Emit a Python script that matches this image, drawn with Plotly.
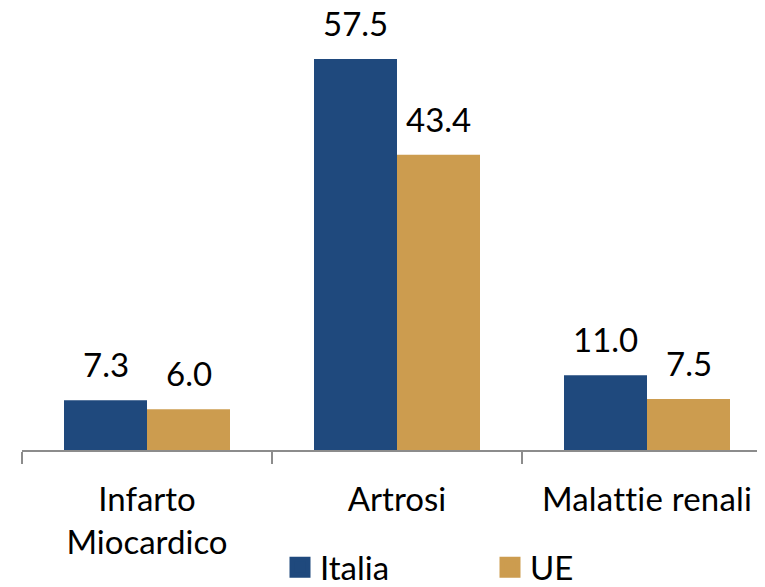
import plotly.graph_objects as go

# Dati
categorie = ["Infarto<br>Miocardico", "Artrosi",
             "<span style='letter-spacing:0.2px'>Malattie renali</span>"]
serie_nomi = ["Italia", "UE"]
italia = [7.3, 57.5, 11.0]
ue = [6.0, 43.4, 7.5]

COL_ITALIA = "#1F497D"
COL_UE = "#CC9C4F"
FONT = "Lato, Calibri, 'Noto Sans', sans-serif"
FS = 33

fig = go.Figure()
for nome, valori, col in zip(serie_nomi, (italia, ue), (COL_ITALIA, COL_UE)):
    fig.add_trace(go.Bar(x=categorie, y=valori, name=nome, marker_color=col,
                         marker_line_width=0, showlegend=False))
    # voce di legenda con quadratino più grande
    fig.add_trace(go.Scatter(x=[None], y=[None], name=nome, mode="markers",
                             marker=dict(symbol="square", size=16, color=col,
                                         line=dict(width=5, color=col))))

# Etichette dei valori sopra le barre
for serie, shift in ((italia, -41.5), (ue, 41.5)):
    for cat, v in zip(categorie, serie):
        fig.add_annotation(x=cat, y=v, text=f"{v:.1f}", showarrow=False,
                           xshift=shift, yanchor="bottom", yshift=14,
                           font=dict(size=FS, color="black", family=FONT))

# la pagina aggiunge 8px di margine: margini compensati
fig.update_layout(
    width=765, height=587,
    margin=dict(l=14, r=1, t=2, b=145, autoexpand=False),
    paper_bgcolor="white", plot_bgcolor="white",
    barmode="group", bargap=0.336, bargroupgap=0,
    font=dict(family=FONT, size=FS, color="black"),
    legend=dict(orientation="h", x=0.344, xanchor="left", y=-0.203, yanchor="top",
                font=dict(size=FS), entrywidth=165, entrywidthmode="pixels",
                itemsizing="trace", tracegroupgap=0),
)
fig.update_xaxes(range=[-0.5, 2.5], automargin=False, showline=True,
                 linecolor="#8C8C8C", linewidth=1.5,
                 ticks="outside", tickson="boundaries", ticklen=12, tickwidth=1.5,
                 tickcolor="#8C8C8C", ticklabelstandoff=20, showgrid=False)
fig.update_yaxes(range=[0, 64.7], visible=False, showgrid=False, automargin=False)

fig.write_html("out.html")
